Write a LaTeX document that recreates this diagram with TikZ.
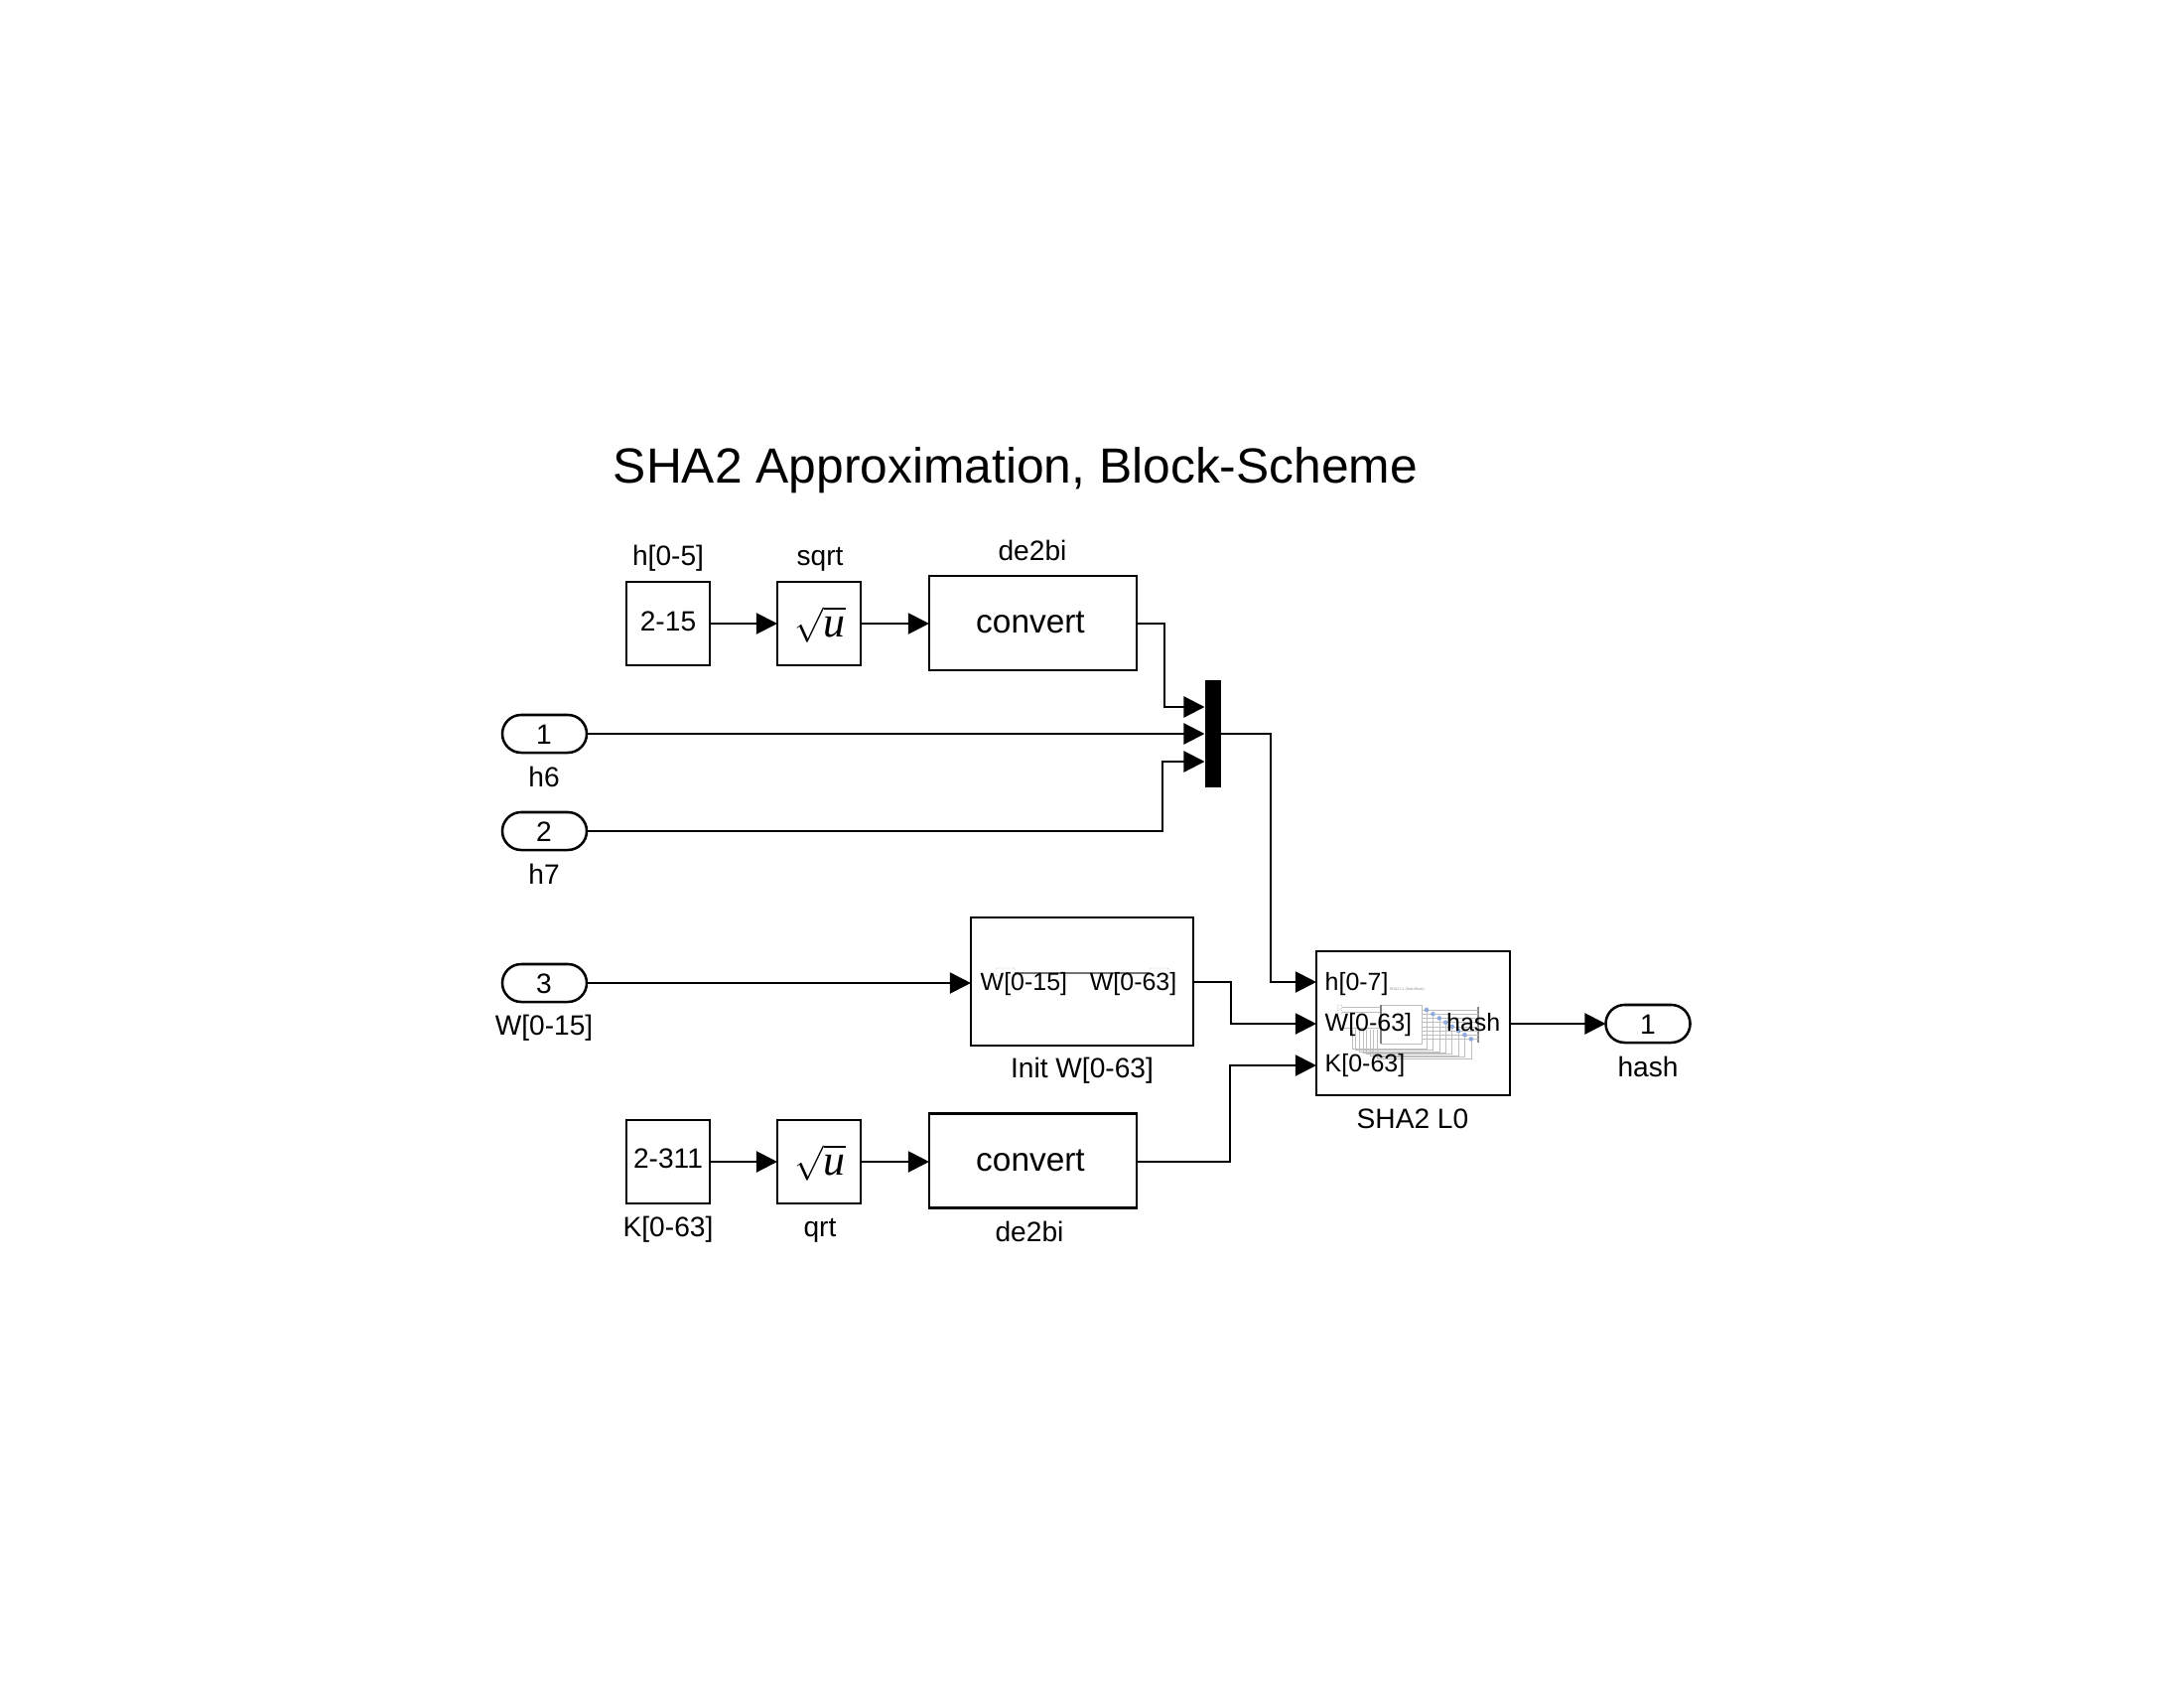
\documentclass[tikz,border=0pt]{standalone}
\usepackage{fontspec}
\setmainfont{Liberation Sans}
\newfontfamily\rootfont{Liberation Serif}
\usetikzlibrary{arrows.meta}
\tikzset{
	block/.style={draw=black,line width=.72pt,inner sep=0pt,outer sep=0pt,font=\fontsize{8}{10}\selectfont},
	constblock/.style={block,minimum width=.84cm,minimum height=.84cm},
	convblock/.style={block,minimum width=2.09cm,minimum height=.95cm},
	port/.style={block,rounded corners=.19cm,minimum width=.85cm,minimum height=.38cm},
	lbl/.style={inner sep=0pt,anchor=base,font=\fontsize{8}{10}\selectfont},
	portlbl/.style={lbl,font=\fontsize{7.1}{9}\selectfont},
	bigtext/.style={inner sep=0pt,anchor=base,font=\fontsize{9.5}{11}\selectfont},
	rootlbl/.style={inner sep=0pt,font=\fontsize{10}{12}\selectfont},
	wire/.style={line width=.6pt},
	sig/.style={wire,-{Triangle[length=.21cm,width=.21cm]}},
	faint/.style={line width=.12pt,draw=black!25},
}
\newcommand{\rootu}{$\sqrt{\hbox{\rootfont\itshape\fontsize{12.5}{13}\selectfont u}}$}
\begin{document}
\begin{tikzpicture}[x=.01cm,y=-.01cm]
\useasboundingbox (0,-1) rectangle (2200,1699);
\node (title) [inner sep=0pt,font=\fontsize{14.15}{16}\selectfont] at (1023,473) {SHA2 Approximation, Block-Scheme};
% upper row
\node (hconst) [constblock] at (673,627) {};
\node (hsqrt) [constblock] at (825,627) {};
\node (hconv) [convblock] at (1040.5,626.5) {};
\node (mux) [fill=black,inner sep=0pt,outer sep=0pt,minimum width=.16cm,minimum height=1.08cm] at (1221.5,738) {};
\node (in1) [port] at (548.5,738) {};
\node (in2) [port] at (548.5,836) {};
\node (in3) [port] at (548.5,989) {};
% lower blocks
\node (initw) [block,minimum width=2.24cm,minimum height=1.29cm] at (1090,987.5) {};
\node (kconst) [constblock] at (673,1169) {};
\node (ksqrt) [constblock] at (825,1169) {};
\node (kconv) [convblock] at (1040.5,1168) {};
\node (sha) [block,minimum width=1.95cm,minimum height=1.45cm] at (1423.5,1029.5) {};
\node (out) [port] at (1660,1030) {};
% thumbnail of Init W
\draw[faint,rounded corners=.3pt] (1003,974) rectangle (1022,982);
\draw[faint,rounded corners=.3pt] (1158,974) rectangle (1177,982);
\draw[line width=.3pt,draw=black!55] (1022,979) -- (1158,979);
% thumbnail of the sub-block
\node (subtitle) [inner sep=0pt,anchor=west,text=black!45,font=\fontsize{1.05}{2}\selectfont] at (1399,996) {SHA2 L1 (Sub-Block)};
\draw[faint] (1391,1011) rectangle (1432,1050);
\draw[faint,rounded corners=.3pt] (1347,1011) rectangle (1352,1015);
\draw[faint,rounded corners=.3pt] (1347,1016) rectangle (1352,1020);
\draw[faint] (1352,1013) -- (1391,1013);
\draw[faint] (1352,1018) -- (1391,1018);
\draw[faint] (1349,1034) -- (1391,1034);
\draw[line width=.3pt,draw=black!50] (1391,1011) -- (1391,1050);
\draw[line width=.5pt,draw=black!45] (1489,1013) -- (1489,1049);
\foreach \i in {0,...,7}{
	\draw[faint] (1432,{1016+4.2*\i}) -- (1489,{1016+4.2*\i});
	\draw[faint] ({1437+6.4*\i},{1016+4.2*\i}) -- ({1437+6.4*\i},{1055+1.4*\i}) -- ({1362+3.6*\i},{1055+1.4*\i}) -- ({1362+3.6*\i},1036);
}
\draw[line width=.25pt,dotted] (1437,1016) -- (1482,1046);
\foreach \i in {0,...,7}
	\fill[fill=cyan!45!blue!45] ({1437+6.4*\i},{1016+4.2*\i}) circle (.65pt);
% wires, upper row
\draw[sig] (hconst) -- (hsqrt);
\draw[sig] (hsqrt) -- (hsqrt -| hconv.west);
\coordinate (muxa) at (mux.west |- 0,711);
\coordinate (muxb) at (mux.west);
\coordinate (muxc) at (mux.west |- 0,766);
\draw[sig] (hconv.east |- 0,627) -- (1173,627) -- (1173,711) -- (muxa);
\draw[sig] (in1) -- (muxb);
\draw[sig] (in2) -- (1171,836) -- (1171,766) -- (muxc);
% wires into SHA2
\coordinate (shaa) at (sha.west |- 0,988);
\coordinate (shab) at (sha.west |- 0,1030);
\coordinate (shac) at (sha.west |- 0,1072);
\draw[sig] (mux.east) -- (1280,738) -- (1280,988) -- (shaa);
\draw[sig] (in3) -- (in3 -| initw.west);
\draw[sig] (initw.east |- 0,988) -- (1240,988) -- (1240,1030) -- (shab);
\draw[sig] (kconst) -- (ksqrt);
\draw[sig] (ksqrt) -- (ksqrt -| kconv.west);
\draw[sig] (kconv.east |- 0,1169) -- (1239,1169) -- (1239,1072) -- (shac);
\draw[sig] (sha.east |- 0,1030) -- (out);
% texts
\node (hval) [lbl] at (673,634) {2-15};
\node (hroot) [rootlbl] at (826,628) {\rootu};
\node (hconvtxt) [bigtext] at (1038,636) {convert};
\node (hconstlbl) [lbl] at (673,568) {h[0-5]};
\node (hsqrtlbl) [lbl] at (826,568) {sqrt};
\node (hconvlbl) [lbl] at (1040,563) {de2bi};
\node (in1txt) [lbl] at (548,748) {1};
\node (in2txt) [lbl] at (548,846) {2};
\node (in3txt) [lbl] at (548,999) {3};
\node (in1lbl) [lbl] at (548,791) {h6};
\node (in2lbl) [lbl] at (548,889) {h7};
\node (in3lbl) [lbl] at (548,1041) {W[0-15]};
\node (initin) [portlbl,anchor=base west] at (987,996) {W[0-15]};
\node (initout) [portlbl,anchor=base east] at (1186,996) {W[0-63]};
\node (initlbl) [lbl] at (1090,1084) {Init W[0-63]};
\node (kval) [lbl] at (673,1175) {2-311};
\node (kroot) [rootlbl] at (826,1170) {\rootu};
\node (kconvtxt) [bigtext] at (1038,1178) {convert};
\node (kconstlbl) [lbl] at (673,1244) {K[0-63]};
\node (ksqrtlbl) [lbl] at (826,1244) {qrt};
\node (kconvlbl) [lbl] at (1037,1249) {de2bi};
\node (shah) [portlbl,anchor=base west] at (1334,996) {h[0-7]};
\node (shaw) [portlbl,anchor=base west] at (1334,1037) {W[0-63]};
\node (shak) [portlbl,anchor=base west] at (1334,1078) {K[0-63]};
\node (shaout) [portlbl,anchor=base east] at (1512,1037) {hash};
\node (shalbl) [lbl] at (1423,1135) {SHA2 L0};
\node (outtxt) [lbl] at (1660,1040) {1};
\node (outlbl) [lbl] at (1660,1083) {hash};
\end{tikzpicture}
\end{document}
